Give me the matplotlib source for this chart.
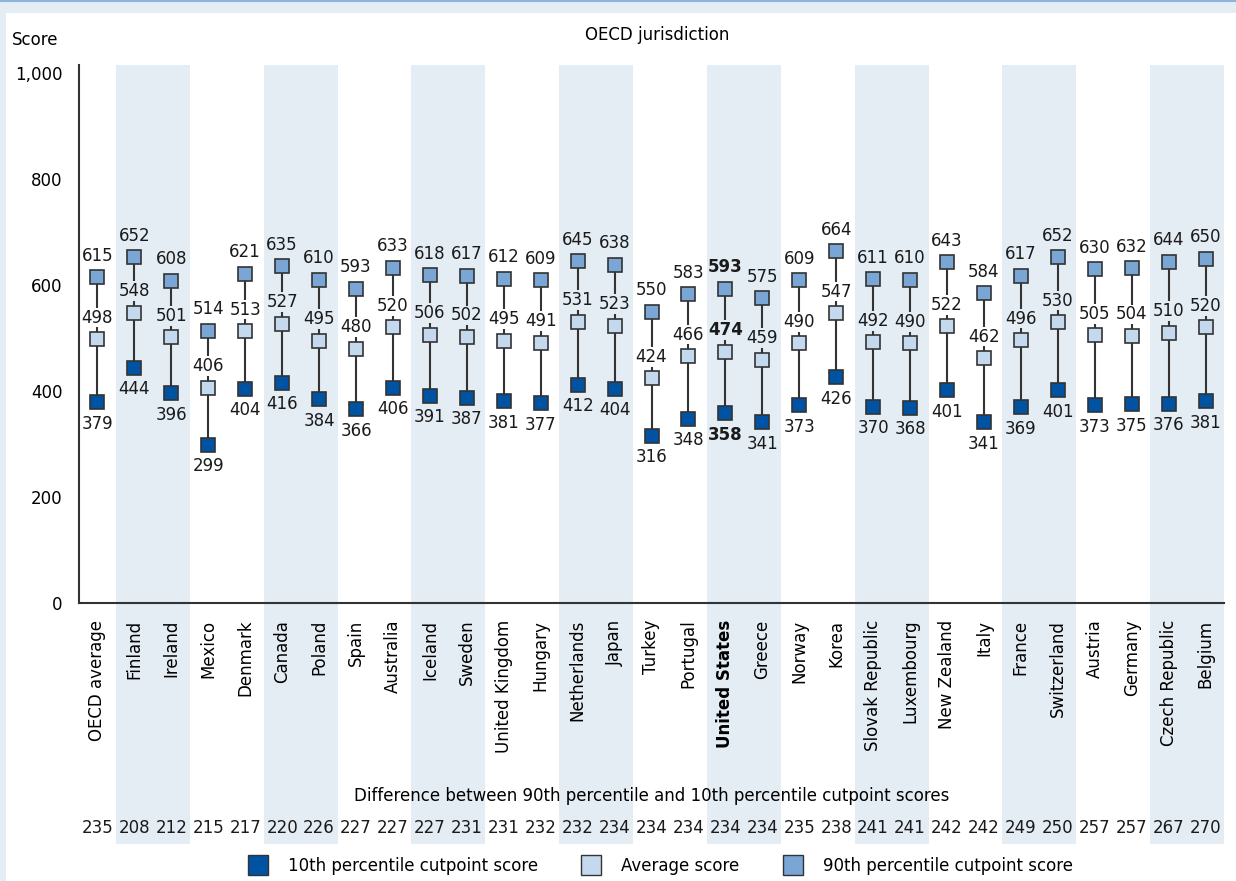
import matplotlib.pyplot as plt
from matplotlib.patches import Rectangle
from matplotlib.transforms import blended_transform_factory

countries = ["OECD average", "Finland", "Ireland", "Mexico", "Denmark", "Canada",
             "Poland", "Spain", "Australia", "Iceland", "Sweden", "United Kingdom",
             "Hungary", "Netherlands", "Japan", "Turkey", "Portugal", "United States",
             "Greece", "Norway", "Korea", "Slovak Republic", "Luxembourg",
             "New Zealand", "Italy", "France", "Switzerland", "Austria", "Germany",
             "Czech Republic", "Belgium"]
p90 = [615, 652, 608, 514, 621, 635, 610, 593, 633, 618, 617, 612, 609, 645, 638,
       550, 583, 593, 575, 609, 664, 611, 610, 643, 584, 617, 652, 630, 632, 644, 650]
avg = [498, 548, 501, 406, 513, 527, 495, 480, 520, 506, 502, 495, 491, 531, 523,
       424, 466, 474, 459, 490, 547, 492, 490, 522, 462, 496, 530, 505, 504, 510, 520]
p10 = [379, 444, 396, 299, 404, 416, 384, 366, 406, 391, 387, 381, 377, 412, 404,
       316, 348, 358, 341, 373, 426, 370, 368, 401, 341, 369, 401, 373, 375, 376, 381]
diff = [235, 208, 212, 215, 217, 220, 226, 227, 227, 227, 231, 231, 232, 232, 234,
        234, 234, 234, 234, 235, 238, 241, 241, 242, 242, 249, 250, 257, 257, 267, 270]
shaded = [1, 2, 5, 6, 9, 10, 13, 14, 17, 18, 21, 22, 25, 26, 29, 30]
highlight = "United States"

BAND = "#e4ecf4"
C10, CAVG, C90 = "#0052a3", "#c4d8ee", "#79a6d4"
EDGE = "#333333"
FS = 12

fig = plt.figure(figsize=(12.36, 8.81), dpi=100)
# light blue frame around the white panel
fig.patches.append(Rectangle((0, 0), 1, 1, transform=fig.transFigure,
                             facecolor=BAND, edgecolor="none", zorder=-10))
fig.patches.append(Rectangle((6 / 1236, 0), 1, 1 - 13 / 881, transform=fig.transFigure,
                             facecolor="white", edgecolor="none", zorder=-9))
fig.lines.append(plt.Line2D([0, 1], [0.999, 0.999], transform=fig.transFigure,
                            color="#8cb4dc", lw=1.5))

ax = fig.add_axes([79 / 1236, 1 - 603 / 881, (1224 - 79) / 1236, 530 / 881])
ax.set_facecolor("none")
n = len(countries)
x = list(range(n))
ax.set_xlim(-0.5, n - 0.5)
ax.set_ylim(0, 1000)

trans = blended_transform_factory(ax.transData, ax.transAxes)
for i in shaded:
    ax.add_patch(Rectangle((i - 0.5, -0.455), 1, 1.47, transform=trans,
                           facecolor=BAND, edgecolor="none", zorder=0, clip_on=False))

for i in x:
    ax.plot([i, i], [p10[i], p90[i]], color=EDGE, lw=1.5, zorder=2)
    bg = BAND if i in shaded else "white"
    w = "bold" if countries[i] == highlight else "normal"
    ax.annotate(str(p90[i]), (i, p90[i]), xytext=(0, 9), textcoords="offset points",
                ha="center", va="bottom", fontsize=FS, fontweight=w, color="#1a1a1a")
    ax.annotate(str(avg[i]), (i, avg[i]), xytext=(0, 9), textcoords="offset points",
                ha="center", va="bottom", fontsize=FS, fontweight=w, color="#1a1a1a",
                bbox=dict(boxstyle="square,pad=0.05", fc=bg, ec="none"), zorder=3)
    ax.annotate(str(p10[i]), (i, p10[i]), xytext=(0, -9), textcoords="offset points",
                ha="center", va="top", fontsize=FS, fontweight=w, color="#1a1a1a")

ms = 10
ax.plot(x, p10, ls="none", marker="s", ms=ms, mfc=C10, mec=EDGE, mew=1.2, zorder=4)
ax.plot(x, avg, ls="none", marker="s", ms=ms, mfc=CAVG, mec=EDGE, mew=1.2, zorder=4)
ax.plot(x, p90, ls="none", marker="s", ms=ms, mfc=C90, mec=EDGE, mew=1.2, zorder=4)

for s in ["top", "right"]:
    ax.spines[s].set_visible(False)
for s in ["left", "bottom"]:
    ax.spines[s].set_color("#333333")
    ax.spines[s].set_linewidth(1.5)
# left axis line runs a little above the 1,000 mark, as in the original
ax.spines["left"].set_bounds(0, 1015)
ax.set_yticks([0, 200, 400, 600, 800, 1000])
ax.set_yticklabels(["0", "200", "400", "600", "800", "1,000"], fontsize=FS)
ax.tick_params(axis="y", length=0, pad=12)
ax.set_xticks(x)
ax.set_xticklabels(countries, rotation=90, fontsize=FS, va="top", ha="center")
ax.tick_params(axis="x", length=0, pad=12)
for lab in ax.get_xticklabels():
    if lab.get_text() == highlight:
        lab.set_fontweight("bold")

# difference row
for i in x:
    ax.text(i, -0.425, str(diff[i]), transform=trans, ha="center", va="center",
            fontsize=FS, color="#1a1a1a")
ax.text(0.5, -0.365, "Difference between 90th percentile and 10th percentile cutpoint scores",
        transform=ax.transAxes, ha="center", va="center", fontsize=FS)
fig.text(12 / 1236, 1 - 40 / 881, "Score", ha="left", va="center", fontsize=FS)
fig.text(657 / 1236, 1 - 35 / 881, "OECD jurisdiction", ha="center", va="center", fontsize=FS)

# legend
h10 = plt.Line2D([], [], ls="none", marker="s", ms=15, mfc=C10, mec=EDGE)
ha_ = plt.Line2D([], [], ls="none", marker="s", ms=15, mfc=CAVG, mec=EDGE)
h90 = plt.Line2D([], [], ls="none", marker="s", ms=15, mfc=C90, mec=EDGE)
fig.legend([h10, ha_, h90],
           ["10th percentile cutpoint score", "Average score", "90th percentile cutpoint score"],
           loc="center", bbox_to_anchor=(657 / 1236, 1 - 866 / 881), ncol=3,
           frameon=False, fontsize=FS, handletextpad=0.8, columnspacing=2.2)

fig.savefig("out.png", dpi=100)
